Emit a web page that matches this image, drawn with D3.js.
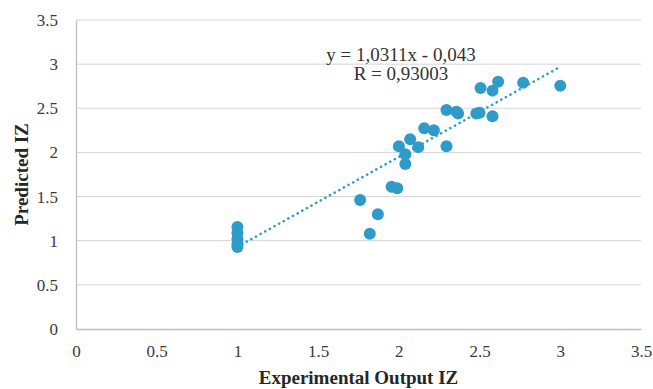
<!DOCTYPE html>
<html>
<head>
<meta charset="utf-8">
<script src="https://cdn.jsdelivr.net/npm/d3@7"></script>
<style>
  body { margin: 0; background: #fff; }
  svg text { font-family: "Liberation Serif", "Times New Roman", serif; }
</style>
</head>
<body>
<svg id="chart" width="653" height="389"></svg>
<script>
// values
const expX = [1, 1, 1, 1, 1, 1.76, 1.82, 1.87, 1.955, 1.99, 2.04, 2.04, 2.0, 2.07, 2.12,
  2.157, 2.217, 2.295, 2.295, 2.357, 2.367, 2.48, 2.5, 2.58, 2.506, 2.58, 2.615, 2.77, 3.0];
const predY = [1.156, 1.088, 1.02, 0.964, 0.93, 1.46, 1.08, 1.30, 1.61, 1.595, 1.87, 1.98, 2.07, 2.15, 2.06,
  2.275, 2.25, 2.07, 2.48, 2.46, 2.44, 2.44, 2.45, 2.41, 2.73, 2.70, 2.80, 2.79, 2.755];
const ticks = [0, 0.5, 1, 1.5, 2, 2.5, 3, 3.5];
// trendline as drawn (slope, intercept), spanning the x range of the data
const trend = [1.02, -0.09];
const eqLines = ["y = 1,0311x - 0,043", "R = 0,93003"];

const svg = d3.select("#chart");
const margin = {left: 76, right: 12, top: 20, bottom: 60};
const W = 653, H = 389;

const x = d3.scaleLinear().domain([0, 3.5]).range([margin.left, W - margin.right]);
const y = d3.scaleLinear().domain([0, 3.5]).range([H - margin.bottom, margin.top]);

// horizontal grid
svg.append("g")
  .selectAll("line")
  .data(ticks.filter(t => t > 0))
  .enter().append("line")
  .attr("x1", x(0)).attr("x2", x(3.5))
  .attr("y1", d => y(d)).attr("y2", d => y(d))
  .attr("stroke", "#d4d4d4").attr("stroke-width", 1);

// axes
const xAxis = svg.append("g")
  .attr("transform", `translate(0,${y(0)})`)
  .call(d3.axisBottom(x).tickValues(ticks).tickSize(0).tickPadding(16).tickFormat(d3.format("")));
const yAxis = svg.append("g")
  .attr("transform", `translate(${x(0)},0)`)
  .call(d3.axisLeft(y).tickValues(ticks).tickSize(0).tickPadding(18).tickFormat(d3.format("")));

[xAxis, yAxis].forEach(a => {
  a.select(".domain").attr("stroke", "#bfbfbf").attr("stroke-width", 1.3);
  a.selectAll("text")
    .attr("font-family", "Liberation Serif, serif")
    .attr("font-size", 17)
    .attr("fill", "#3a3a3a");
});

// trendline
const xr = d3.extent(expX);
svg.append("line")
  .attr("x1", x(xr[0])).attr("y1", y(trend[0] * xr[0] + trend[1]))
  .attr("x2", x(xr[1])).attr("y2", y(trend[0] * xr[1] + trend[1]))
  .attr("stroke", "#2f9bc9")
  .attr("stroke-width", 2.6)
  .attr("stroke-linecap", "round")
  .attr("stroke-dasharray", "0.1 5.2");

// points
svg.append("g")
  .selectAll("circle")
  .data(expX.map((v, i) => [v, predY[i]]))
  .enter().append("circle")
  .attr("cx", d => x(d[0]))
  .attr("cy", d => y(d[1]))
  .attr("r", 6)
  .attr("fill", "#2f9bc9");

// equation label
svg.append("g")
  .selectAll("text")
  .data(eqLines)
  .enter().append("text")
  .attr("x", 401)
  .attr("y", (d, i) => 61 + i * 19)
  .attr("text-anchor", "middle")
  .attr("font-size", 19)
  .attr("fill", "#333")
  .text(d => d);

// axis titles
svg.append("text")
  .attr("x", (x(0) + x(3.5)) / 2)
  .attr("y", 384)
  .attr("text-anchor", "middle")
  .attr("font-size", 19)
  .attr("font-weight", "bold")
  .attr("fill", "#262626")
  .text("Experimental Output IZ");

svg.append("text")
  .attr("transform", `translate(28,${(y(0) + y(3.5)) / 2}) rotate(-90)`)
  .attr("text-anchor", "middle")
  .attr("font-size", 19)
  .attr("font-weight", "bold")
  .attr("fill", "#262626")
  .text("Predicted IZ");
</script>
</body>
</html>
